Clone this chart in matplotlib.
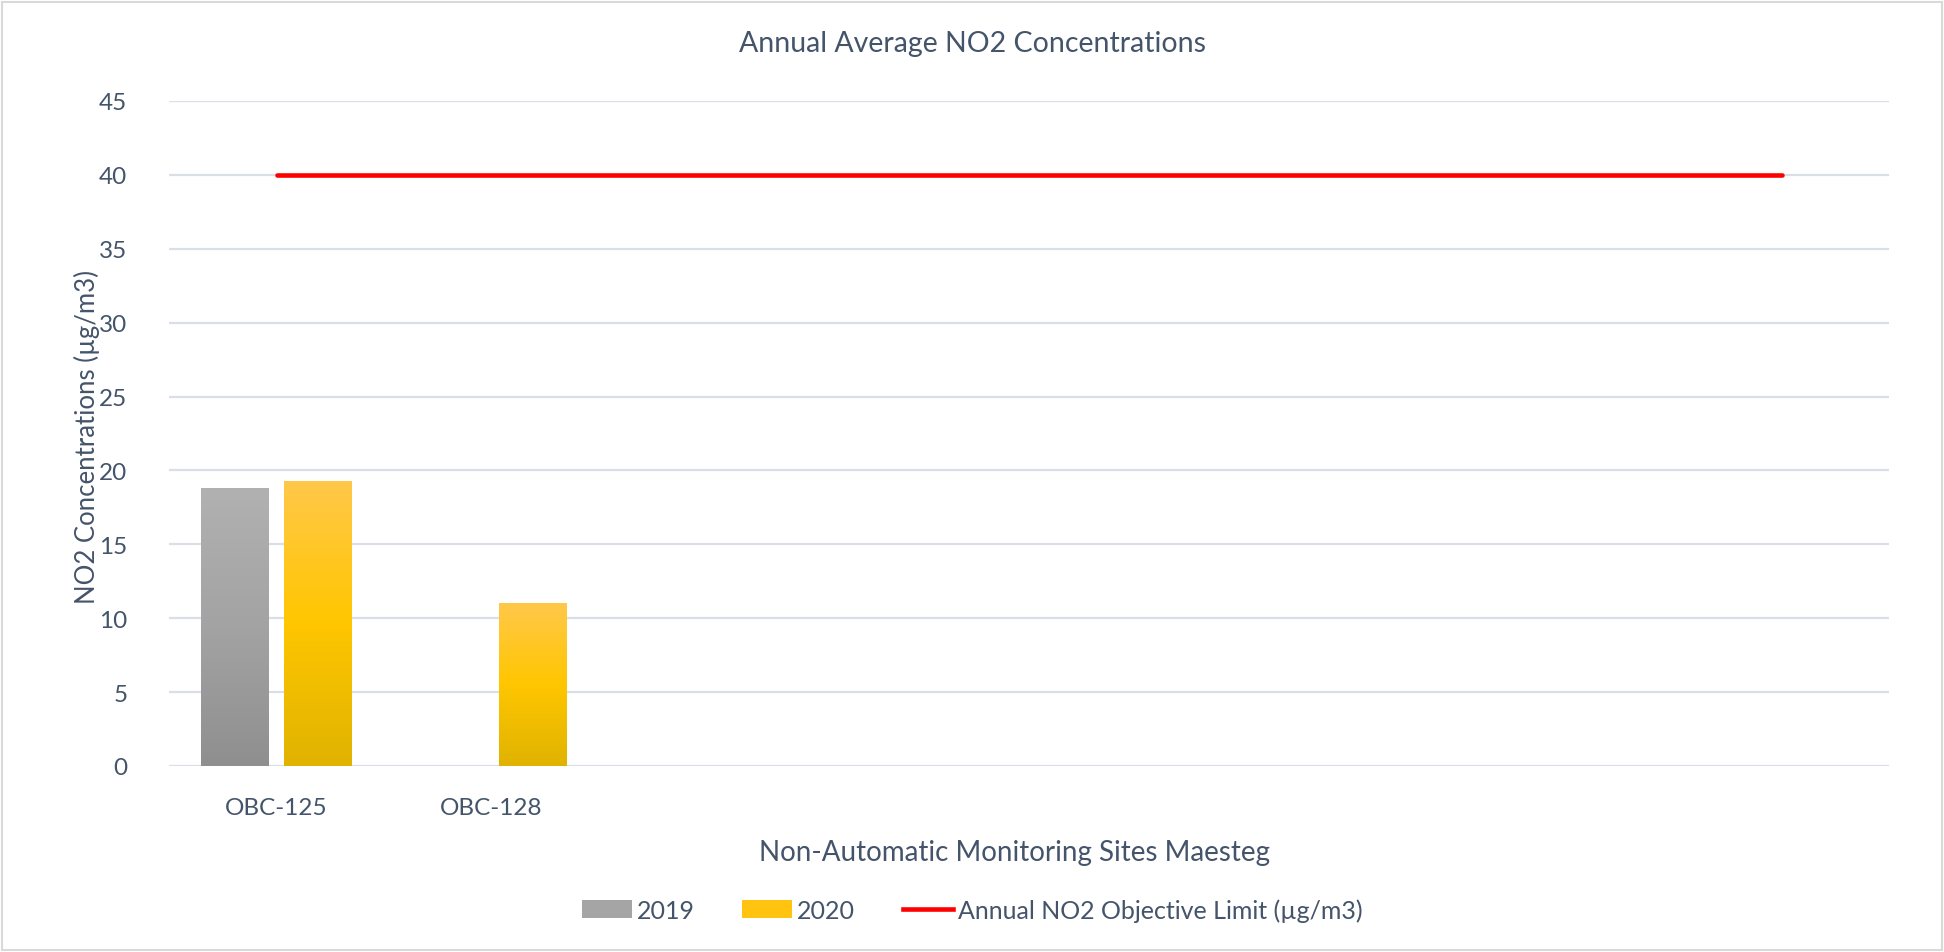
# Annual average NO2 concentrations, Maesteg non-automatic sites

import numpy as np
import matplotlib.pyplot as plt
from matplotlib.patches import Patch, Rectangle
from matplotlib.lines import Line2D
from matplotlib.colors import LinearSegmentedColormap

sites   = ['OBC-125', 'OBC-128', '', '', '', '', '', '']
no2_2019 = [18.8, np.nan, np.nan, np.nan, np.nan, np.nan, np.nan, np.nan]
no2_2020 = [19.3, 11.0, np.nan, np.nan, np.nan, np.nan, np.nan, np.nan]
limit    = [40, 40, 40, 40, 40, 40, 40, 40]
yticks   = [0, 5, 10, 15, 20, 25, 30, 35, 40, 45]

txt = '#44546A'
grid = '#D9DEE7'
plt.rcParams['font.family'] = ['Lato', 'DejaVu Sans']

gray_cm = LinearSegmentedColormap.from_list('g', ['#8F8F8F', '#A3A3A3', '#B1B1B1'])
gold_cm = LinearSegmentedColormap.from_list('y', ['#E0B300', '#FFC600', '#FFC84A'])

fig = plt.figure(figsize=(19.44, 9.53), dpi=100)
ax = fig.add_axes([169/1944, 1-767/953, 1720/1944, 665/953])

x = np.arange(len(sites))
w = 0.316
off = (w + 15/215) / 2

def grad_bars(xs, vals, cmap):
    bars = ax.bar(xs, vals, w, color='none', zorder=3)
    for b in bars:
        h = b.get_height()
        if not np.isfinite(h) or h <= 0:
            continue
        img = ax.imshow(np.linspace(0, 1, 256).reshape(-1, 1), cmap=cmap, origin='lower',
                        extent=[b.get_x(), b.get_x() + b.get_width(), 0, h],
                        aspect='auto', zorder=3)
        img.set_clip_path(b)
    return bars

grad_bars(x - off, no2_2019, gray_cm)
grad_bars(x + off, no2_2020, gold_cm)
ax.plot(x, limit, color='#FF0000', lw=3.3, solid_capstyle='round', zorder=4)

ax.set_xlim(-0.5, len(sites) - 0.5)
ax.set_ylim(0, 45)
ax.set_yticks(yticks)
ax.set_xticks(x)
ax.set_xticklabels(sites)
ax.tick_params(length=0, labelsize=17.5, colors=txt, pad=22)
ax.tick_params(axis='y', pad=30)
ax.yaxis.grid(True, color=grid, lw=1.6)
ax.set_axisbelow(True)
for s in ax.spines.values():
    s.set_visible(False)

fig.text(87/1944, 1-437/953, 'NO2 Concentrations (µg/m3)', fontsize=18.5, color=txt,
         rotation=90, ha='center', va='center')
fig.text(1014/1944, 1-853/953, 'Non-Automatic Monitoring Sites Maesteg', fontsize=20,
         color=txt, ha='center', va='center')
fig.text(0.5, 1-44/953, 'Annual Average NO2 Concentrations', fontsize=20.5,
         color=txt, ha='center', va='center')

handles = [Patch(facecolor='#A5A5A5', label='2019'),
           Patch(facecolor='#FFC310', label='2020'),
           Line2D([], [], color='#FF0000', lw=3.3, label='Annual NO2 Objective Limit (µg/m3)')]
leg = fig.legend(handles=handles, loc='center', bbox_to_anchor=(0.5, 1-911/953), ncol=3,
                 frameon=False, fontsize=18, handlelength=2.0, handleheight=0.7,
                 handletextpad=0.2, columnspacing=1.9)
for t in leg.get_texts():
    t.set_color(txt)

fig.patches.append(Rectangle((2/1944, 2/953), 1940/1944, 948/953, transform=fig.transFigure,
                             fill=False, edgecolor='#D9D9D9', lw=1.5))

plt.savefig('out.png', dpi=100)
